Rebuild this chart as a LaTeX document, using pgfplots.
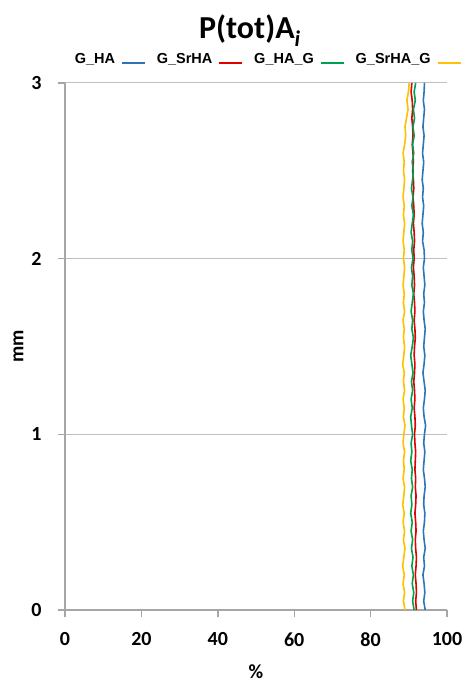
\documentclass[border=0pt]{standalone}
\usepackage{pgfplots}
\pgfplotsset{compat=1.18}
\usepackage{pgfplotstable}
\usepackage{fontspec}
\setmainfont{Carlito}
\newfontfamily\legfont{Liberation Sans}
\definecolor{cblue}{HTML}{2E75B6}
\definecolor{cred}{HTML}{E00000}
\definecolor{cgreen}{HTML}{00A050}
\definecolor{cyellow}{HTML}{FFC000}
\definecolor{axgray}{HTML}{A6A6A6}
\definecolor{gridgray}{HTML}{BFBFBF}
\pgfplotstableread{
y b r g ye
0.00 94.3 92.0 91.4 89.0
0.05 93.9 91.8 91.0 88.6
0.10 94.2 92.0 91.3 88.9
0.15 94.0 91.9 90.9 88.5
0.20 93.7 91.7 91.2 88.8
0.25 94.1 91.9 90.8 88.4
0.30 93.9 92.0 91.1 88.7
0.35 94.3 91.8 90.7 89.0
0.40 94.0 91.7 91.0 88.6
0.45 93.8 91.9 90.6 88.9
0.50 94.1 91.8 90.9 88.5
0.55 94.2 91.6 90.5 88.8
0.60 93.9 91.8 90.8 88.4
0.65 94.0 91.9 90.6 88.7
0.70 94.3 91.7 91.0 88.9
0.75 94.1 91.8 90.7 88.5
0.80 93.8 91.6 90.9 88.8
0.85 94.0 91.7 90.5 88.6
0.90 94.2 91.8 90.8 88.9
0.95 93.9 91.6 90.6 88.5
1.00 94.1 91.5 91.0 88.7
1.05 94.4 91.7 90.7 89.0
1.10 94.0 91.6 90.5 88.6
1.15 93.8 91.4 90.9 88.8
1.20 94.1 91.6 90.6 88.5
1.25 94.3 91.5 91.0 88.9
1.30 94.0 91.3 90.7 88.6
1.35 93.7 91.5 91.1 88.8
1.40 94.0 91.6 90.8 88.4
1.45 94.2 91.4 90.5 88.7
1.50 93.9 91.5 90.9 88.9
1.55 94.1 91.7 91.2 88.6
1.60 94.3 91.6 90.8 88.8
1.65 94.0 91.4 91.0 88.5
1.70 93.8 91.6 90.6 88.9
1.75 94.1 91.5 90.9 88.6
1.80 93.9 91.3 91.2 88.8
1.85 94.2 91.5 90.8 88.5
1.90 94.0 91.4 91.0 88.7
1.95 93.8 91.2 90.7 88.9
2.00 94.1 91.4 91.1 88.6
2.05 94.0 91.3 90.8 88.8
2.10 93.6 91.5 91.0 88.5
2.15 93.8 91.4 90.6 88.7
2.20 93.5 91.2 90.9 88.9
2.25 93.7 91.4 91.2 88.6
2.30 93.9 91.3 90.8 88.8
2.35 93.6 91.1 91.1 88.5
2.40 93.8 91.3 90.7 88.7
2.45 93.5 91.2 91.0 88.9
2.50 93.7 91.0 91.2 88.6
2.55 93.9 91.2 90.9 88.8
2.60 93.6 91.1 91.3 88.5
2.65 93.8 90.9 91.0 88.9
2.70 94.0 91.1 91.4 89.2
2.75 93.7 91.0 91.1 89.0
2.80 93.9 90.8 91.5 89.4
2.85 94.1 91.0 91.2 89.8
2.90 93.8 90.9 91.7 89.5
2.95 94.0 90.6 91.4 89.9
3.00 94.1 90.8 91.8 90.1
}\datatable
\begin{document}
\begin{tikzpicture}
\begin{axis}[
  scale only axis,
  width=382pt, height=527pt,
  xmin=0, xmax=100, ymin=0, ymax=3,
  xtick={0,20,...,100}, ytick={0,1,2,3},
  axis x line*=bottom, axis y line*=left,
  axis line style={axgray, line width=1.4pt, -},
  tick style={axgray, line width=1.4pt},
  tick align=outside,
  major tick length=7pt,
  ymajorgrids, grid style={gridgray, line width=1pt},
  /pgf/number format/assume math mode=true,
  ticklabel style={font=\fontsize{20}{24}\selectfont\bfseries},
  xticklabel style={yshift=-12pt},
  yticklabel style={xshift=-13pt},
  xlabel={\%}, ylabel={mm},
  label style={font=\fontsize{20}{24}\selectfont\bfseries},
  xlabel style={at={(axis description cs:0.5,-0.1176)}, anchor=center},
  ylabel style={at={(axis description cs:-0.122,0.5)}, anchor=center},
  title={P(tot)A\textit{\textsubscript{i}}},
  title style={font=\fontsize{32}{38}\selectfont\bfseries, at={(axis description cs:0.484,1.088)}, anchor=center},
  legend columns=4,
  legend plot pos=right,
  legend style={draw=none, fill=none, at={(0.529,1.045)}, anchor=center,
    font=\legfont\fontsize{14.5}{17}\selectfont\bfseries,
    /tikz/every odd column/.append style={column sep=4pt},
    /tikz/every even column/.append style={column sep=9pt}},
  legend image code/.code={\draw[#1, line width=1.8pt] (0pt,-4pt) -- (23pt,-4pt);},
  every axis plot/.append style={line width=1.6pt},
]
\addplot[cblue] table[x=b, y=y] {\datatable};
\addlegendentry{G\_HA}
\addplot[cred] table[x=r, y=y] {\datatable};
\addlegendentry{G\_SrHA}
\addplot[cgreen] table[x=g, y=y] {\datatable};
\addlegendentry{G\_HA\_G}
\addplot[cyellow] table[x=ye, y=y] {\datatable};
\addlegendentry{G\_SrHA\_G}
\end{axis}
\pgfresetboundingbox
\path (current axis.south west) ++(-65pt,-74pt) rectangle ++(467pt,684pt);
\end{tikzpicture}
\end{document}
